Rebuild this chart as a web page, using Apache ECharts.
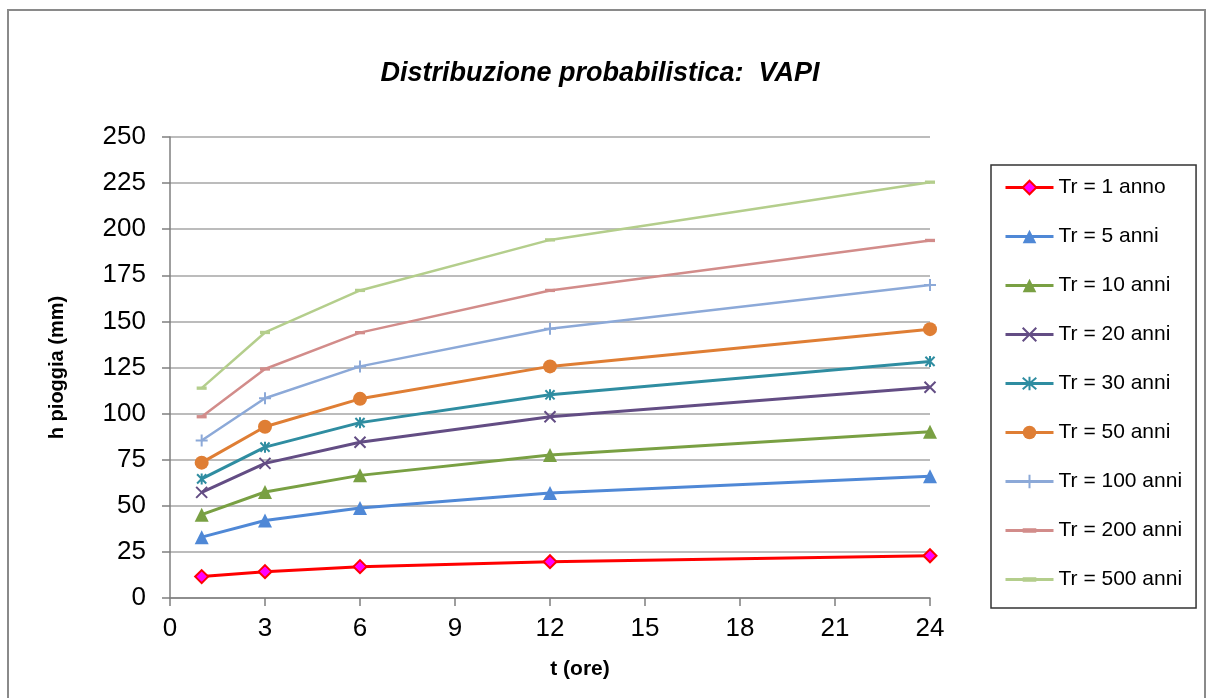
<!DOCTYPE html>
<html>
<head>
<meta charset="utf-8">
<title>Distribuzione probabilistica: VAPI</title>
<script src="https://cdn.jsdelivr.net/npm/echarts@6/dist/echarts.min.js"></script>
<style>
    html,body{margin:0;padding:0;background:#fff;}
    #chart{width:1213px;height:698px;}
</style>
</head>
<body>
<div id="chart"></div>
<script>
//durate (ore)
var hours = [1, 3, 6, 12, 24];
var xTicks = [0, 3, 6, 9, 12, 15, 18, 21, 24];
var yTicks = [0, 25, 50, 75, 100, 125, 150, 175, 200, 225, 250];

//altezze di pioggia (mm) per tempo di ritorno
var tr1 = [11.6, 14.3, 17.0, 19.7, 22.9];
var tr5 = [33.0, 42.0, 48.8, 57.0, 66.0];
var tr10 = [45.2, 57.5, 66.5, 77.6, 90.2];
var tr20 = [57.3, 73.0, 84.5, 98.3, 114.3];
var tr30 = [64.6, 81.8, 95.1, 110.2, 128.3];
var tr50 = [73.4, 92.9, 108.0, 125.6, 145.8];
var tr100 = [85.4, 108.3, 125.6, 146.0, 169.8];
var tr200 = [98.3, 124.2, 143.9, 166.8, 193.9];
var tr500 = [113.8, 144.0, 166.8, 194.2, 225.5];

var seriesNames = ["Tr = 1 anno", "Tr = 5 anni", "Tr = 10 anni", "Tr = 20 anni", "Tr = 30 anni",
    "Tr = 50 anni", "Tr = 100 anni", "Tr = 200 anni", "Tr = 500 anni"];

var FONT = "Liberation Sans, Arial, sans-serif";

//simboli tipo excel
var SYM_X = "path://M0,0L10,10M10,0L0,10";
var SYM_STAR = "path://M0,0L10,10M10,0L0,10M5,-1L5,11";
var SYM_PLUS = "path://M5,0L5,10M0,5L10,5";
//trattino: i punti vuoti sopra e sotto tengono il riquadro quadrato (anche in legenda)
var SYM_DASH = "path://M0,-3L0,-3M0,0L9,0L9,3L0,3ZM0,6L0,6";

function pairs(values) {
    var out = [];
    for (var i = 0; i < hours.length; i++) {
        out.push([hours[i], values[i]]);
    }
    return out;
}

function makeSeries(name, values, color, symbol, size, fill, stroke, width) {
    return {
        name: name,
        type: "line",
        data: pairs(values),
        symbol: symbol,
        symbolSize: size,
        symbolKeepAspect: true,
        showSymbol: true,
        lineStyle: {color: color, width: width},
        itemStyle: {color: fill, borderColor: stroke || fill, borderWidth: stroke ? 2 : 0},
        emphasis: {disabled: true},
        z: 3
    };
}

var series = [
    makeSeries(seriesNames[0], tr1, "#FF0000", "diamond", 13, "#FF00FF", "#FF0000", 3),
    makeSeries(seriesNames[1], tr5, "#4F88D6", "triangle", 14, "#4F88D6", null, 3),
    makeSeries(seriesNames[2], tr10, "#79A043", "triangle", 14, "#79A043", null, 3),
    makeSeries(seriesNames[3], tr20, "#634D84", SYM_X, 11, "#634D84", "#634D84", 3),
    makeSeries(seriesNames[4], tr30, "#2F8DA1", SYM_STAR, 11, "#2F8DA1", "#2F8DA1", 3),
    makeSeries(seriesNames[5], tr50, "#DF7E34", "circle", 14, "#DF7E34", null, 3),
    makeSeries(seriesNames[6], tr100, "#8CA9D8", SYM_PLUS, 12, "#8CA9D8", "#8CA9D8", 2.5),
    makeSeries(seriesNames[7], tr200, "#D28C8A", SYM_DASH, 10, "#D28C8A", null, 2.5),
    makeSeries(seriesNames[8], tr500, "#B4CE8C", SYM_DASH, 10, "#B4CE8C", null, 2.5)
];

var myChart = echarts.init(document.getElementById("chart"), null, {renderer: "canvas"});

var option = {
    backgroundColor: "#fff",
    animation: false,
    title: {
        text: "Distribuzione probabilistica:  VAPI",
        left: 595,
        textAlign: "center",
        top: 55,
        textStyle: {fontFamily: FONT, fontSize: 27, fontStyle: "italic", fontWeight: "bold", color: "#000"}
    },
    //cornice esterna
    graphic: [{
        type: "rect",
        shape: {x: 8, y: 10, width: 1197, height: 700},
        style: {fill: "none", stroke: "#8a8a8a", lineWidth: 2},
        silent: true
    }],
    legend: {
        orient: "vertical",
        left: 991,
        top: 165,
        padding: [12, 14, 18, 13],
        itemWidth: 48,
        itemHeight: 17,
        itemGap: 28,
        borderColor: "#333",
        borderWidth: 1.5,
        lineStyle: {width: 3},
        data: seriesNames,
        textStyle: {fontFamily: FONT, fontSize: 21, color: "#000", lineHeight: 21}
    },
    grid: {left: 170, right: 283, top: 137, bottom: 100, containLabel: false},
    xAxis: {
        type: "value",
        min: xTicks[0],
        max: xTicks[xTicks.length - 1],
        interval: 3,
        name: "t (ore)",
        nameLocation: "middle",
        nameGap: 61,
        nameTextStyle: {fontFamily: FONT, fontSize: 21, fontWeight: "bold", color: "#000", padding: [0, 0, 0, 60]},
        axisLine: {lineStyle: {color: "#7f7f7f", width: 1.5}},
        axisTick: {show: true, inside: false, length: 8, lineStyle: {color: "#7f7f7f", width: 1.5}},
        axisLabel: {fontFamily: FONT, fontSize: 26, color: "#000", margin: 18},
        splitLine: {show: false}
    },
    yAxis: {
        type: "value",
        min: yTicks[0],
        max: yTicks[yTicks.length - 1],
        interval: 25,
        name: "h pioggia (mm)",
        nameLocation: "middle",
        nameGap: 103,
        nameTextStyle: {fontFamily: FONT, fontSize: 20, fontWeight: "bold", color: "#000"},
        axisLine: {show: true, lineStyle: {color: "#7f7f7f", width: 1.5}},
        axisTick: {show: true, inside: false, length: 8, lineStyle: {color: "#7f7f7f", width: 1.5}},
        axisLabel: {fontFamily: FONT, fontSize: 26, color: "#000", margin: 24},
        splitLine: {show: true, lineStyle: {color: "#a6a6a6", width: 1.5}}
    },
    series: series
};

myChart.setOption(option);
</script>
</body>
</html>
